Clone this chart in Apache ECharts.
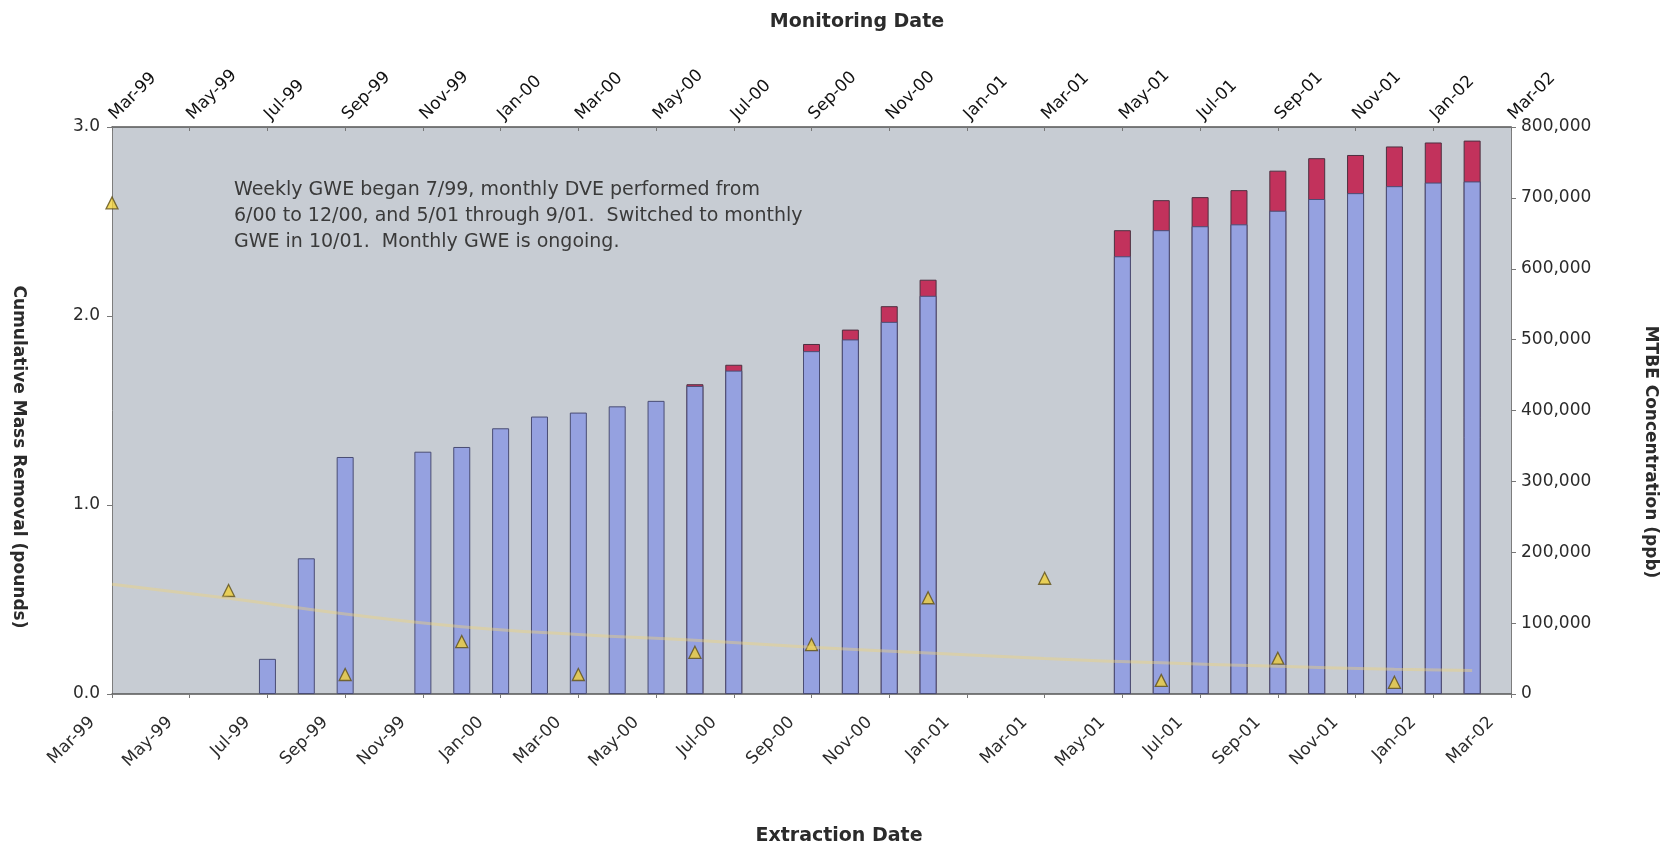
<!DOCTYPE html>
<html>
<head>
<meta charset="utf-8">
<script src="https://cdn.jsdelivr.net/npm/echarts@6/dist/echarts.min.js"></script>
<style>
  html, body { margin: 0; padding: 0; background: #ffffff; }
  #chart { width: 1666px; height: 846px; }
</style>
</head>
<body>
<div id="chart"></div>
<script>
// tick labels, one every two months from Mar-99
var tickLabels = ['Mar-99', 'May-99', 'Jul-99', 'Sep-99', 'Nov-99', 'Jan-00', 'Mar-00', 'May-00',
    'Jul-00', 'Sep-00', 'Nov-00', 'Jan-01', 'Mar-01', 'May-01', 'Jul-01', 'Sep-01', 'Nov-01',
    'Jan-02', 'Mar-02'];

// extraction (bars): cumulative GWE and cumulative DVE, pounds
var extractionDates = ['1999-07', '1999-08', '1999-09', '1999-11', '1999-12', '2000-01', '2000-02',
    '2000-03', '2000-04', '2000-05', '2000-06', '2000-07', '2000-09', '2000-10', '2000-11', '2000-12',
    '2001-05', '2001-06', '2001-07', '2001-08', '2001-09', '2001-10', '2001-11', '2001-12',
    '2002-01', '2002-02'];
var gweRemoval = [0.186, 0.718, 1.254, 1.282, 1.307, 1.406, 1.468, 1.489, 1.522, 1.551, 1.630, 1.711,
    1.814, 1.876, 1.969, 2.107, 2.316, 2.454, 2.475, 2.485, 2.557, 2.619, 2.650, 2.687, 2.706, 2.712];
var dveRemoval = [0, 0, 0, 0, 0, 0, 0, 0, 0, 0, 0.009, 0.031, 0.038, 0.052, 0.083, 0.085,
    0.138, 0.159, 0.154, 0.181, 0.212, 0.216, 0.202, 0.210, 0.212, 0.216];

// monitoring (triangles): MTBE concentration, ppb
var monitoringDates = ['1999-03', '1999-06', '1999-09', '1999-12', '2000-03', '2000-06', '2000-09',
    '2000-12', '2001-03', '2001-06', '2001-09', '2001-12'];
var mtbeConc = [693000, 146000, 27500, 74000, 27500, 58800, 69800, 135800, 163300, 19200, 50500, 16500];

// faint trend line
var trendDates = ['1999-03', '1999-06', '1999-09', '1999-12', '2000-03', '2000-06', '2000-09',
    '2000-12', '2001-03', '2001-06', '2001-09', '2001-12', '2002-02'];
var trendConc = [155000, 135000, 113000, 95000, 84000, 76000, 66000, 58000, 50000, 44000, 39000, 35000, 33000];

// months counted from Mar-99
function toMonth(s) {
    var p = s.split('-');
    return (parseInt(p[0], 10) - 1999) * 12 + (parseInt(p[1], 10) - 3);
}

var font = 'DejaVu Sans';
var gweData = [], totalData = [], mtbeData = [], trendData = [];
for (var i = 0; i < extractionDates.length; i++) {
    gweData.push([toMonth(extractionDates[i]), gweRemoval[i]]);
    // red DVE part sits on top of the blue: draw the total behind the blue bar
    totalData.push([toMonth(extractionDates[i]), dveRemoval[i] > 0 ? gweRemoval[i] + dveRemoval[i] : '-']);
}
for (var j = 0; j < monitoringDates.length; j++) {
    mtbeData.push([toMonth(monitoringDates[j]), mtbeConc[j]]);
}
for (var k = 0; k < trendDates.length; k++) {
    trendData.push([toMonth(trendDates[k]), trendConc[k]]);
}

var myChart = echarts.init(document.getElementById('chart'));
myChart.setOption({
    animation: false,
    backgroundColor: '#ffffff',
    textStyle: { fontFamily: font },
    grid: {
        left: 112, top: 127, width: 1399, height: 567,
        show: true, backgroundColor: '#c7ccd3', borderWidth: 0
    },
    xAxis: [
        {
            type: 'value', position: 'bottom', min: 0, max: 36, interval: 2,
            axisLine: { onZero: false, lineStyle: { color: '#555555', width: 1.5 } },
            axisTick: { show: true, length: 4, lineStyle: { color: '#777777' } },
            splitLine: { show: false },
            axisLabel: {
                rotate: 45, margin: 6, padding: [0, 28, 0, 0],
                color: '#2b2b2b', fontSize: 17, fontFamily: font,
                formatter: function (v) { return tickLabels[v / 2]; }
            }
        },
        {
            type: 'value', position: 'top', min: 0, max: 36, interval: 2,
            axisLine: { onZero: false, lineStyle: { color: '#555555', width: 1.5 } },
            axisTick: { show: true, inside: true, length: 4, lineStyle: { color: '#777777' } },
            splitLine: { show: false },
            axisLabel: {
                rotate: -45, margin: 10,
                color: '#111111', fontSize: 17, fontFamily: font,
                formatter: function (v) { return tickLabels[v / 2]; }
            }
        }
    ],
    yAxis: [
        {
            type: 'value', position: 'left', min: 0, max: 3, interval: 1,
            axisLine: { show: true, onZero: false, lineStyle: { color: '#7d7d7d' } },
            axisTick: { show: true, length: 5, lineStyle: { color: '#777777' } },
            splitLine: { show: false },
            axisLabel: {
                margin: 12, color: '#2b2b2b', fontSize: 17, fontFamily: font,
                formatter: function (v) { return v.toFixed(1); }
            }
        },
        {
            type: 'value', position: 'right', min: 0, max: 800000, interval: 100000,
            axisLine: { show: true, onZero: false, lineStyle: { color: '#7d7d7d' } },
            axisTick: { show: true, length: 5, lineStyle: { color: '#777777' } },
            splitLine: { show: false },
            axisLabel: {
                margin: 10, color: '#2b2b2b', fontSize: 17, fontFamily: font,
                formatter: function (v) { return v.toLocaleString('en-US'); }
            }
        }
    ],
    series: [
        {
            name: 'GWE + DVE', type: 'bar', xAxisIndex: 0, yAxisIndex: 0,
            barWidth: 17, barGap: '-100%',
            itemStyle: { color: '#c2325c', borderColor: '#4d3040', borderWidth: 1 },
            data: totalData
        },
        {
            name: 'GWE', type: 'bar', xAxisIndex: 0, yAxisIndex: 0,
            barWidth: 17, barGap: '-100%',
            itemStyle: { color: '#95a1e0', borderColor: '#4a4d74', borderWidth: 1 },
            data: gweData
        },
        {
            name: 'Trend', type: 'line', xAxisIndex: 1, yAxisIndex: 1,
            smooth: true, showSymbol: false, silent: true,
            lineStyle: { color: 'rgba(240, 212, 120, 0.42)', width: 3 },
            data: trendData
        },
        {
            name: 'MTBE', type: 'scatter', xAxisIndex: 1, yAxisIndex: 1,
            symbol: 'triangle', symbolSize: 12, clip: false,
            itemStyle: { color: '#f0d03a', borderColor: '#5e4f18', borderWidth: 1.3 },
            data: mtbeData
        }
    ],
    graphic: [
        {
            type: 'text', x: 857, y: 22,
            style: { text: 'Monitoring Date', align: 'center', verticalAlign: 'middle',
                fill: '#2b2b2b', fontSize: 19, fontWeight: 'bold', fontFamily: font }
        },
        {
            type: 'text', x: 839, y: 836,
            style: { text: 'Extraction Date', align: 'center', verticalAlign: 'middle',
                fill: '#2b2b2b', fontSize: 19, fontWeight: 'bold', fontFamily: font }
        },
        {
            type: 'text', x: 18, y: 457, rotation: -Math.PI / 2,
            style: { text: 'Cumulative Mass Removal (pounds)', align: 'center', verticalAlign: 'middle',
                fill: '#2b2b2b', fontSize: 17, fontWeight: 'bold', fontFamily: font }
        },
        {
            type: 'text', x: 1650, y: 452, rotation: -Math.PI / 2,
            style: { text: 'MTBE Concentration (ppb)', align: 'center', verticalAlign: 'middle',
                fill: '#2b2b2b', fontSize: 17, fontWeight: 'bold', fontFamily: font }
        },
        {
            type: 'text', x: 234, y: 177, z: 100,
            style: {
                text: 'Weekly GWE began 7/99, monthly DVE performed from\n' +
                      '6/00 to 12/00, and 5/01 through 9/01.  Switched to monthly\n' +
                      'GWE in 10/01.  Monthly GWE is ongoing.',
                align: 'left', verticalAlign: 'top', lineHeight: 26,
                fill: '#3a3a3a', fontSize: 19, fontFamily: font
            }
        }
    ]
});
</script>
</body>
</html>
